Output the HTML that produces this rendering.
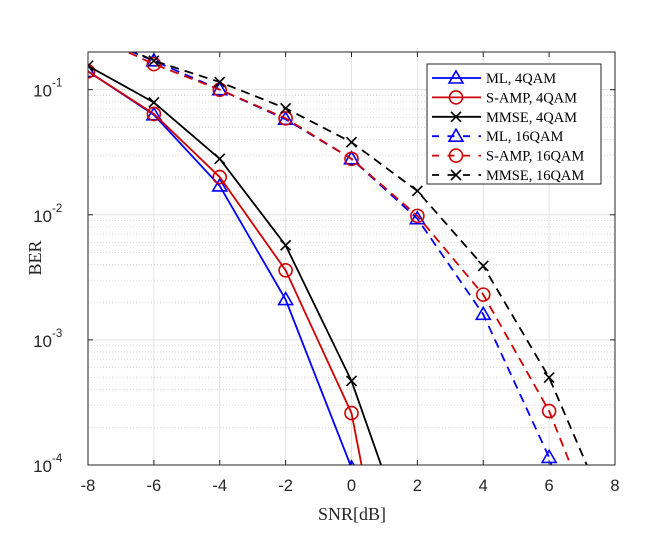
<!DOCTYPE html>
<html><head><meta charset="utf-8"><style>
html,body{margin:0;background:#fff;overflow:hidden;width:664px;height:537px}
svg{display:block}
svg text{font-family:"Liberation Sans",Arial,sans-serif}
</style></head><body>
<svg id="chart" width="664" height="537" viewBox="0 0 664 537" xmlns="http://www.w3.org/2000/svg">
<defs><clipPath id="clip"><rect x="88" y="52" width="527" height="413"/></clipPath></defs>
<g id="grid"></g>
<g id="series" clip-path="url(#clip)"></g>
<g id="axes"></g>
<g id="legend"></g>
</svg>
<script>
const xTicks=[-8,-6,-4,-2,0,2,4,6,8];
const yDecades=[-4,-3,-2,-1];
const snr=[-8,-6,-4,-2,0,2,4,6,8];
const mlQ4=[0.14,0.063,0.017,0.0021,0.000095,null,null,null,null];
const sampQ4=[0.14,0.064,0.020,0.0036,0.00026,0.0000005,null,null,null];
const mmseQ4=[0.155,0.079,0.028,0.0057,0.00047,0.000015,null,null,null];
const ml16=[0.28,0.17,0.10,0.058,0.028,0.0093,0.0016,0.000115,0.000002];
const samp16=[0.28,0.16,0.10,0.059,0.028,0.0098,0.0023,0.00027,0.000013];
const mmse16=[0.30,0.17,0.115,0.071,0.038,0.0155,0.0039,0.0005,0.00003];
const seriesNames=["ML, 4QAM","S-AMP, 4QAM","MMSE, 4QAM","ML, 16QAM","S-AMP, 16QAM","MMSE, 16QAM"];

const NS="http://www.w3.org/2000/svg";
const L=88,R=615,B=465,T=52;
const yMinL=-4,yMaxL=Math.log10(0.2);
function xs(v){return L+(v+8)/16*(R-L);}
function ys(v){return B-(Math.log10(v)-yMinL)/(yMaxL-yMinL)*(B-T);}
function mk(tag,attrs,parent){const e=document.createElementNS(NS,tag);for(const k in attrs)e.setAttribute(k,attrs[k]);parent.appendChild(e);return e;}
const grid=document.getElementById('grid'),axes=document.getElementById('axes'),ser=document.getElementById('series'),leg=document.getElementById('legend');

xTicks.forEach(t=>{const l=mk('line',{x1:xs(t),x2:xs(t),y1:T,y2:B,stroke:'#e3e3e3','stroke-width':1},grid);

});
for(let d=-4;d<0;d++){for(let m=1;m<10;m++){const v=m*Math.pow(10,d);if(v>0.2)break;const y=ys(v);
 const l=mk('line',{x1:L,x2:R,y1:y,y2:y,stroke:m===1?'#e3e3e3':'#d8d8d8','stroke-width':1,'stroke-dasharray':m===1?'':'1,2'},grid);
 
 }}
const styles=[
 {d:mlQ4,c:'#0000ff',dash:'',m:'tri'},
 {d:sampQ4,c:'#d00000',dash:'',m:'circ'},
 {d:mmseQ4,c:'#000000',dash:'',m:'x'},
 {d:ml16,c:'#0000ff',dash:'9,6',m:'tri'},
 {d:samp16,c:'#d00000',dash:'9,6',m:'circ'},
 {d:mmse16,c:'#000000',dash:'9,6',m:'x'}];
function marker(type,x,y,c,parent){
 if(type==='tri')return mk('path',{d:`M${x},${y-7} L${x+7},${y+5} L${x-7},${y+5} Z`,fill:'none',stroke:c,'stroke-width':1.6},parent);
 if(type==='circ')return mk('circle',{cx:x,cy:y,r:6.5,fill:'none',stroke:c,'stroke-width':1.6},parent);
 return mk('path',{d:`M${x-5},${y-5}L${x+5},${y+5}M${x-5},${y+5}L${x+5},${y-5}`,stroke:c,'stroke-width':1.6},parent);}
styles.forEach((s,i)=>{const pts=[];snr.forEach((x,j)=>{if(s.d[j]!=null)pts.push([xs(x),ys(s.d[j])]);});
 const p=mk('polyline',{points:pts.map(q=>q.join(',')).join(' '),fill:'none',stroke:s.c,'stroke-width':1.8,'stroke-dasharray':s.dash},ser);
 
 
 pts.forEach(q=>{const m=marker(s.m,q[0],q[1],s.c,ser);
  
  });});
const box=mk('rect',{x:L,y:T,width:R-L,height:B-T,fill:'none',stroke:'#262626','stroke-width':1},axes);


xTicks.forEach(t=>{const x=xs(t);mk('line',{x1:x,x2:x,y1:B,y2:B-5,stroke:'#262626'},axes);mk('line',{x1:x,x2:x,y1:T,y2:T+5,stroke:'#262626'},axes);
 const tx=mk('text',{x:x,y:B+26,'text-anchor':'middle','font-size':16.5,fill:'#262626'},axes);tx.textContent=String(t);
 
 });
yDecades.forEach(d=>{const y=ys(Math.pow(10,d));mk('line',{x1:L,x2:L+5,y1:y,y2:y,stroke:'#262626'},axes);mk('line',{x1:R,x2:R-5,y1:y,y2:y,stroke:'#262626'},axes);
 const tx=mk('text',{x:L-36,y:y+7,'text-anchor':'end','font-size':17,fill:'#262626'},axes);tx.textContent='10';
 
 
 const ex=mk('text',{x:L-36,y:y-3,'font-size':11.5,fill:'#262626'},axes);ex.textContent=String(d);
 
 });
const xl=mk('text',{x:352,y:520,'text-anchor':'middle','font-size':18,fill:'#262626',style:'font-family:"Liberation Serif",serif'},axes);xl.textContent='SNR[dB]';


const yl=mk('text',{x:0,y:0,'text-anchor':'middle','font-size':18,fill:'#262626',transform:'translate(41,258) rotate(-90)',style:'font-family:"Liberation Serif",serif'},axes);yl.textContent='BER';


const lb=mk('rect',{x:427,y:64,width:174,height:120,fill:'#fff',stroke:'#262626','stroke-width':1},leg);


styles.forEach((s,i)=>{const y=78+i*19.4;
 mk('line',{x1:432,x2:481,y1:y,y2:y,stroke:s.c,'stroke-width':1.8,'stroke-dasharray':s.dash?'7,8.5':''},leg);
 marker(s.m,456,y,s.c,leg);
 const t=mk('text',{x:486,y:y+5,'font-size':14.5,fill:'#000',style:'font-family:"Liberation Serif",serif'},leg);t.textContent=seriesNames[i];
 
 });
</script>
</body></html>
